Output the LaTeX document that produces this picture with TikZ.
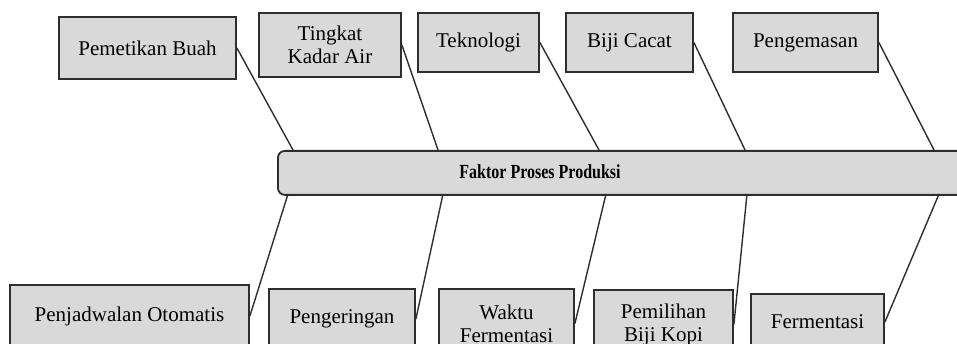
\documentclass[tikz,border=0pt]{standalone}
\usepackage{fontspec}
\setmainfont{Liberation Serif}
\usepackage{xcolor}
\definecolor{abu}{HTML}{D9D9D9}
\definecolor{garis}{HTML}{2E2E2E}
\usepackage{tikz}

\begin{document}
\begin{tikzpicture}[x=1pt, y=-1pt,
                    kotak/.style={draw=garis, fill=abu, line width=1.8pt, align=center, inner sep=0pt,
                                  font=\fontsize{21}{23}\selectfont},
                    tulang/.style={draw=garis, line width=1.4pt}]
                        \useasboundingbox (0, 0) rectangle (957, 344);

                        % kotak atas
                        \node (petik) at (147.5, 48) [kotak, minimum width=177, minimum height=62] {Pemetikan Buah};
                        \node (kadar) at (330, 45) [kotak, minimum width=142, minimum height=64] {Tingkat\\Kadar Air};
                        \node (tekno) at (478.5, 42.5) [kotak, minimum width=121, minimum height=59] {Teknologi};
                        \node (cacat) at (629.5, 42.5) [kotak, minimum width=127, minimum height=59] {Biji Cacat};
                        \node (kemas) at (805.5, 42.5) [kotak, minimum width=145, minimum height=59] {Pengemasan};

                        % badan utama
                        \node (badan) at (277, 150) [kotak, anchor=north west, rounded corners=7,
                                                     minimum width=720, minimum height=44] {};
                        \node (judul) at (540, 172) [font=\fontsize{20}{22}\selectfont\bfseries]
                            {\scalebox{0.8}[1]{Faktor Proses Produksi}};

                        % kotak bawah
                        \node (jadwal) at (129.5, 316) [kotak, minimum width=239, minimum height=62] {Penjadwalan Otomatis};
                        \node (kering) at (342, 319) [kotak, minimum width=146, minimum height=60] {Pengeringan};
                        \node (waktu) at (506.5, 323.5) [kotak, minimum width=135, minimum height=69] {Waktu\\Fermentasi};
                        \node (pilih) at (663.5, 324.5) [kotak, minimum width=139, minimum height=69] {Pemilihan\\Biji Kopi};
                        \node (ferm) at (817.5, 322) [kotak, minimum width=133, minimum height=56] {Fermentasi};

                        % titik pada badan
                        \coordinate (a1) at (293, 150);
                        \coordinate (a2) at (438, 150);
                        \coordinate (a3) at (599, 150);
                        \coordinate (a4) at (745, 150);
                        \coordinate (a5) at (934, 150);
                        \coordinate (b1) at (288, 194);
                        \coordinate (b2) at (443, 194);
                        \coordinate (b3) at (606, 194);
                        \coordinate (b4) at (747, 194);
                        \coordinate (b5) at (939, 194);

                        \draw[tulang] (petik.east) -- (a1);
                        \draw[tulang] (kadar.east) -- (a2);
                        \draw[tulang] (tekno.east) -- (a3);
                        \draw[tulang] (cacat.east) -- (a4);
                        \draw[tulang] (kemas.east) -- (a5);

                        \draw[tulang] (jadwal.east) -- (b1);
                        \draw[tulang] (kering.east) -- (b2);
                        \draw[tulang] (waktu.east) -- (b3);
                        \draw[tulang] (pilih.east) -- (b4);
                        \draw[tulang] (ferm.east) -- (b5);
                    \end{tikzpicture}
\end{document}
